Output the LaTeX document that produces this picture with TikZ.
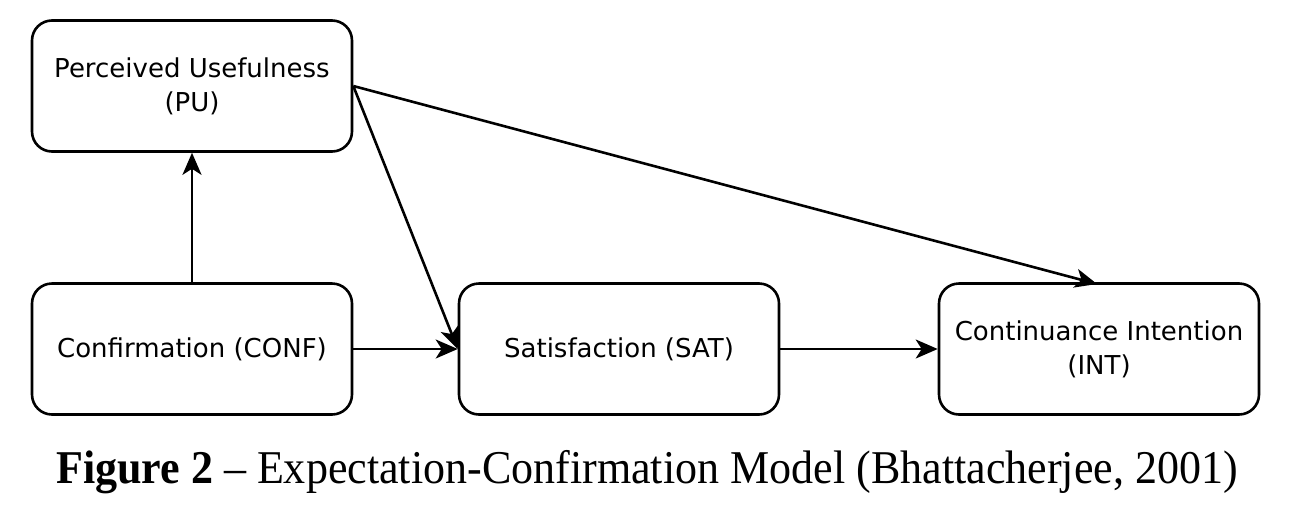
\documentclass[tikz,border=0pt]{standalone}
\usepackage{fontspec}
\setmainfont{Liberation Serif}
\newfontfamily\boxfont{DejaVu Sans}
\usetikzlibrary{arrows.meta}
\begin{document}
\begin{tikzpicture}[x=1pt,y=-1pt,
  box/.style={draw, line width=2.6pt, rounded corners=20pt, minimum width=320pt, minimum height=131pt,
    align=center, inner sep=0pt, font=\boxfont\fontsize{26}{34}\selectfont},
  arr/.style={line width=2.6pt, -{Stealth[length=22pt,width=19pt,inset=6pt]}}]
\useasboundingbox (0,0) rectangle (1292,528);
\node[box] (pu) at (192,86) {Perceived Usefulness\\(PU)};
\node[box] (conf) at (192,349) {Confirmation (CONF)};
\node[box] (sat) at (619,349) {Satisfaction (SAT)};
\node[box] (int) at (1099,349) {Continuance Intention\\(INT)};
\coordinate (intTop) at (1097,284);
\draw[arr] (conf) -- (pu);
\draw[arr] (conf) -- (sat);
\draw[arr] (sat) -- (int);
\draw[arr] (pu.east) -- (sat.west);
\draw[arr] (pu.east) -- (intTop);
\node[anchor=base, inner sep=0pt, font=\fontsize{47}{50}\selectfont] (cap) at (647,483)
  {\scalebox{0.937}[1]{\textbf{Figure 2} -- Expectation-Confirmation Model (Bhattacherjee, 2001)}};
\end{tikzpicture}
\end{document}
